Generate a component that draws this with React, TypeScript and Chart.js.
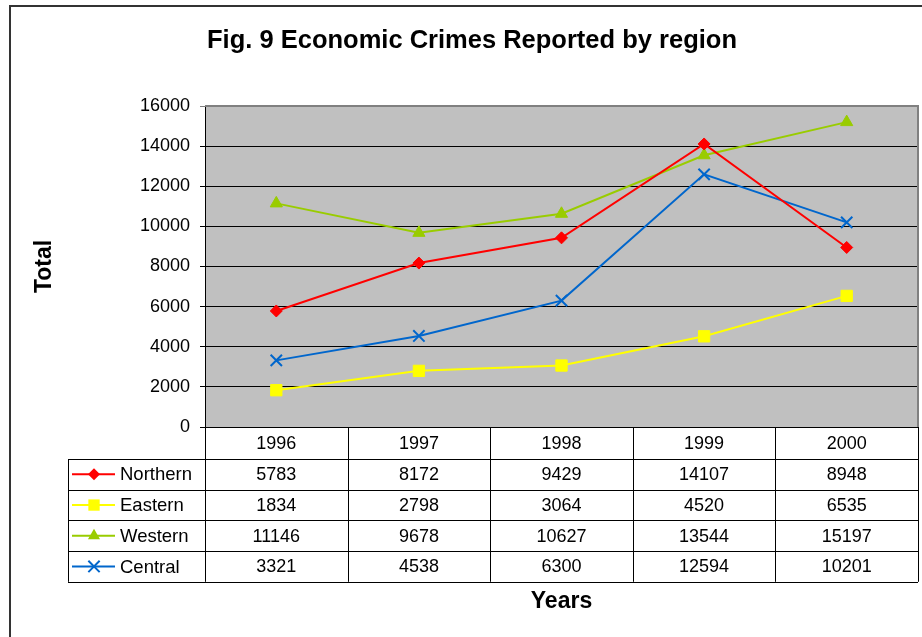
import React, { useEffect, useRef } from "react";
import { Chart, registerables } from "chart.js";

Chart.register(...registerables);

const categories = ["1996", "1997", "1998", "1999", "2000"];
const seriesNames = ["Northern", "Eastern", "Western", "Central"];
const northern = [5783, 8172, 9429, 14107, 8948];
const eastern = [1834, 2798, 3064, 4520, 6535];
const western = [11146, 9678, 10627, 13544, 15197];
const central = [3321, 4538, 6300, 12594, 10201];
const seriesValues = [northern, eastern, western, central];
const seriesColors = ["#FF0000", "#FFFF00", "#99CC00", "#0066CC"];
const seriesPoints = ["rectRot", "rect", "triangle", "crossRot"];
const seriesRadius = [6, 8, 7, 8];

const titleText = "Fig. 9 Economic Crimes Reported by region";
const yTitle = "Total";
const xTitle = "Years";
const yMin = 0;
const yMax = 16000;
const yStep = 2000;

const FONT = "'Liberation Sans', Arial, sans-serif";

function drawMarker(ctx: CanvasRenderingContext2D, style: string, x: number, y: number, r: number, color: string) {
  ctx.save();
  ctx.fillStyle = color;
  ctx.strokeStyle = color;
  ctx.lineWidth = 2;
  ctx.beginPath();
  if (style === "rectRot") {
    ctx.moveTo(x, y - r);
    ctx.lineTo(x + r, y);
    ctx.lineTo(x, y + r);
    ctx.lineTo(x - r, y);
    ctx.closePath();
    ctx.fill();
  } else if (style === "rect") {
    const s = r * Math.SQRT1_2;
    ctx.rect(x - s, y - s, 2 * s, 2 * s);
    ctx.fill();
  } else if (style === "triangle") {
    ctx.moveTo(x, y - r);
    ctx.lineTo(x + r * 0.866, y + r * 0.5);
    ctx.lineTo(x - r * 0.866, y + r * 0.5);
    ctx.closePath();
    ctx.fill();
  } else {
    const s = r * Math.SQRT1_2;
    ctx.moveTo(x - s, y - s);
    ctx.lineTo(x + s, y + s);
    ctx.moveTo(x + s, y - s);
    ctx.lineTo(x - s, y + s);
    ctx.stroke();
  }
  ctx.restore();
}

const decorPlugin = {
  id: "decor",
  beforeDraw(chart: any) {
    const { ctx, chartArea } = chart;
    ctx.save();
    ctx.fillStyle = "#FFFFFF";
    ctx.fillRect(0, 0, chart.width, chart.height);
    ctx.fillStyle = "#C0C0C0";
    ctx.fillRect(chartArea.left, chartArea.top, chartArea.right - chartArea.left, chartArea.bottom - chartArea.top);
    ctx.restore();
  },
  afterDraw(chart: any) {
    const { ctx, chartArea } = chart;
    const xs = chart.scales.x;
    const left = chartArea.left;
    const right = chartArea.right;
    const top = chartArea.top;
    const bottom = chartArea.bottom;
    const n = categories.length;
    const colW = (right - left) / n;
    ctx.save();

    // plot border (gray top/right)
    ctx.strokeStyle = "#808080";
    ctx.lineWidth = 2;
    ctx.beginPath();
    ctx.moveTo(left, top);
    ctx.lineTo(right, top);
    ctx.lineTo(right, bottom);
    ctx.stroke();

    // outer border
    ctx.strokeStyle = "#333333";
    ctx.lineWidth = 2;
    ctx.beginPath();
    ctx.moveTo(10, chart.height + 5);
    ctx.lineTo(10, 6);
    ctx.lineTo(chart.width + 5, 6);
    ctx.stroke();

    // title
    ctx.fillStyle = "#000";
    ctx.textAlign = "center";
    ctx.textBaseline = "middle";
    ctx.font = `bold 25.5px ${FONT}`;
    ctx.fillText(titleText, 472, 41);

    // y title
    ctx.save();
    ctx.translate(45, (top + bottom) / 2);
    ctx.rotate(-Math.PI / 2);
    ctx.font = `bold 23px ${FONT}`;
    ctx.fillText(yTitle, 0, 0);
    ctx.restore();

    // table
    const headerH = 32;
    const rowH = 30.7;
    const tableLeft = 68;
    const tableBottom = bottom + headerH + rowH * seriesNames.length;
    ctx.strokeStyle = "#000";
    ctx.lineWidth = 1;
    ctx.beginPath();
    ctx.moveTo(left, Math.round(bottom) + 0.5);
    ctx.lineTo(right, Math.round(bottom) + 0.5);
    for (let i = 0; i <= n; i++) {
      const x = Math.round(left + i * colW) + 0.5;
      ctx.moveTo(x, bottom);
      ctx.lineTo(x, tableBottom);
    }
    for (let r = 0; r <= seriesNames.length; r++) {
      const y = Math.round(bottom + headerH + r * rowH) + 0.5;
      ctx.moveTo(tableLeft, y);
      ctx.lineTo(right, y);
    }
    ctx.moveTo(tableLeft + 0.5, bottom + headerH);
    ctx.lineTo(tableLeft + 0.5, tableBottom);
    ctx.stroke();

    ctx.font = `18px ${FONT}`;
    ctx.fillStyle = "#000";
    ctx.textAlign = "center";
    for (let i = 0; i < n; i++) {
      const cx = xs.getPixelForValue(i);
      ctx.fillText(categories[i], cx, bottom + headerH / 2 + 1);
      for (let r = 0; r < seriesNames.length; r++) {
        const cy = bottom + headerH + r * rowH + rowH / 2 + 1;
        ctx.fillText(String(seriesValues[r][i]), cx, cy);
      }
    }
    for (let r = 0; r < seriesNames.length; r++) {
      const cy = bottom + headerH + r * rowH + rowH / 2;
      ctx.strokeStyle = seriesColors[r];
      ctx.lineWidth = 2;
      ctx.beginPath();
      ctx.moveTo(72, cy);
      ctx.lineTo(115, cy);
      ctx.stroke();
      drawMarker(ctx, seriesPoints[r], 94, cy, seriesRadius[r], seriesColors[r]);
      ctx.fillStyle = "#000";
      ctx.textAlign = "left";
      ctx.font = `18.5px ${FONT}`;
      ctx.fillText(seriesNames[r], 120, cy + 1);
    }

    // x title
    ctx.textAlign = "center";
    ctx.font = `bold 23px ${FONT}`;
    ctx.fillText(xTitle, (left + right) / 2, 602);
    ctx.restore();
  },
};

export default function App() {
  const ref = useRef<HTMLCanvasElement | null>(null);
  useEffect(() => {
    document.body.style.margin = "0";
    if (!ref.current) return;
    const chart = new Chart(ref.current, {
      type: "line",
      data: {
        labels: categories,
        datasets: seriesNames.map((name, i) => ({
          label: name,
          data: seriesValues[i],
          borderColor: seriesColors[i],
          backgroundColor: seriesColors[i],
          borderWidth: 2,
          pointStyle: seriesPoints[i] as any,
          pointRadius: seriesRadius[i],
          pointBorderWidth: i === 3 ? 2 : 1,
          pointBackgroundColor: seriesColors[i],
          pointBorderColor: seriesColors[i],
          tension: 0,
          fill: false,
        })),
      },
      options: {
        responsive: false,
        animation: false,
        devicePixelRatio: 1,
        layout: { autoPadding: false, padding: { left: 0, top: 106, right: 4, bottom: 210 } },
        plugins: {
          legend: { display: false },
          tooltip: { enabled: false },
          title: { display: false },
        },
        scales: {
          x: {
            type: "category",
            offset: true,
            grid: { display: false, drawTicks: false },
            border: { display: false },
            ticks: { display: false },
            afterFit(scale: any) {
              scale.height = 0;
            },
          },
          y: {
            min: yMin,
            max: yMax,
            ticks: {
              stepSize: yStep,
              color: "#000",
              padding: 10,
              font: { family: FONT, size: 18 },
              callback: (v: any) => String(v),
            },
            grid: {
              color: (c: any) => (c.tick && c.tick.value === yMax ? "#808080" : "#000"),
              lineWidth: 1,
              tickLength: 5,
              drawTicks: true,
            },
            border: { display: true, color: "#000", width: 1 },
            afterFit(scale: any) {
              scale.width = 205;
            },
          },
        },
      },
      plugins: [decorPlugin],
    });
    return () => chart.destroy();
  }, []);
  return <canvas ref={ref} width={922} height={637} style={{ display: "block" }} />;
}
